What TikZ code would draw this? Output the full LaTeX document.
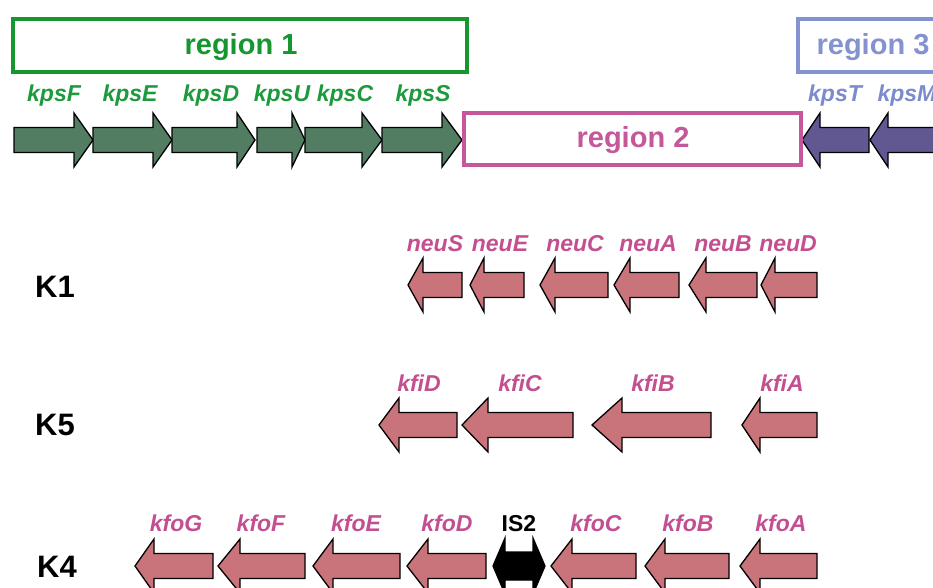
\documentclass[tikz,border=0pt]{standalone}
\usepackage{fontspec}
\setmainfont{Liberation Sans}
\usepackage{tikz}
\definecolor{rgreen}{HTML}{16962F}
\definecolor{ggreen}{HTML}{1D9A3C}
\definecolor{fgreen}{HTML}{527D63}
\definecolor{rpink}{HTML}{C4589A}
\definecolor{gpink}{HTML}{C34F90}
\definecolor{fpink}{HTML}{C8747A}
\definecolor{rblue}{HTML}{8592D2}
\definecolor{gblue}{HTML}{7C8BCB}
\definecolor{fpurple}{HTML}{615892}

% gene arrows: tip/start, head base, end, centre line, fill
\newcommand{\generight}[5]{%
  \filldraw[gene,fill=#5] (#1,#4-12.5) -- (#2,#4-12.5) -- (#2,#4-27) -- (#3,#4)
    -- (#2,#4+27) -- (#2,#4+12.5) -- (#1,#4+12.5) -- cycle;}
\newcommand{\geneleft}[5]{%
  \filldraw[gene,fill=#5] (#1,#4) -- (#2,#4-27) -- (#2,#4-12.5) -- (#3,#4-12.5)
    -- (#3,#4+12.5) -- (#2,#4+12.5) -- (#2,#4+27) -- cycle;}

\begin{document}
\begin{tikzpicture}[x=1pt,y=-1pt,
  every node/.style={inner sep=0pt},
  gene/.style={draw=black,line width=1.3pt,line join=miter},
  region/.style={draw,line width=3.2pt,fill=white,font=\fontsize{29}{32}\selectfont\bfseries},
  glabel/.style={anchor=base,font=\fontsize{23}{26}\selectfont\bfseries\itshape},
  strain/.style={anchor=base,font=\fontsize{31}{34}\selectfont\bfseries}
]
\clip (0,0) rectangle (933,588);

% regions
\node[region,draw=rgreen,minimum width=454,minimum height=53] (region1) at (240,45.5) {};
\node[region,draw=rblue,minimum width=150,minimum height=53] (region3) at (873,45.5) {};
\node[anchor=base,text=rgreen,font=\fontsize{29}{32}\selectfont\bfseries] (r1text) at (241,55) {region 1};
\node[anchor=base,text=rblue,font=\fontsize{29}{32}\selectfont\bfseries] (r3text) at (873,55) {region 3};

% capsule cluster
\generight{14}{74}{93}{140}{fgreen}
\generight{93}{153}{172}{140}{fgreen}
\generight{172}{237}{255}{140}{fgreen}
\generight{257}{292}{305}{140}{fgreen}
\generight{305}{362}{382}{140}{fgreen}
\generight{382}{442}{462}{140}{fgreen}
\geneleft{802}{820}{869}{140}{fpurple}
\geneleft{870}{888}{950}{140}{fpurple}
\node[region,draw=rpink,minimum width=337,minimum height=52] (region2) at (632.5,139) {};
\node[anchor=base,text=rpink,font=\fontsize{29}{32}\selectfont\bfseries] (r2text) at (633,148) {region 2};

\node[glabel,text=ggreen] (kpsF) at (54,102) {kpsF};
\node[glabel,text=ggreen] (kpsE) at (130,102) {kpsE};
\node[glabel,text=ggreen] (kpsD) at (211,102) {kpsD};
\node[glabel,text=ggreen] (kpsU) at (282,102) {kpsU};
\node[glabel,text=ggreen] (kpsC) at (345,102) {kpsC};
\node[glabel,text=ggreen] (kpsS) at (423,102) {kpsS};
\node[glabel,text=gblue] (kpsT) at (835,102) {kpsT};
\node[glabel,text=gblue] (kpsM) at (907,102) {kpsM};

% K1
\node[strain] (K1) at (55,297) {K1};
\geneleft{408}{423}{462}{285}{fpink}
\geneleft{470}{484}{524}{285}{fpink}
\geneleft{540}{555}{608}{285}{fpink}
\geneleft{614}{630}{679}{285}{fpink}
\geneleft{689}{706}{757}{285}{fpink}
\geneleft{761}{775}{817}{285}{fpink}
\node[glabel,text=gpink] (neuS) at (435,251) {neuS};
\node[glabel,text=gpink] (neuE) at (500,251) {neuE};
\node[glabel,text=gpink] (neuC) at (575,251) {neuC};
\node[glabel,text=gpink] (neuA) at (648,251) {neuA};
\node[glabel,text=gpink] (neuB) at (723,251) {neuB};
\node[glabel,text=gpink] (neuD) at (788,251) {neuD};

% K5
\node[strain] (K5) at (55,435) {K5};
\geneleft{379}{399}{457}{425}{fpink}
\geneleft{462}{488}{573}{425}{fpink}
\geneleft{592}{622}{711}{425}{fpink}
\geneleft{742}{760}{817}{425}{fpink}
\node[glabel,text=gpink] (kfiD) at (419,391) {kfiD};
\node[glabel,text=gpink] (kfiC) at (520,391) {kfiC};
\node[glabel,text=gpink] (kfiB) at (653,391) {kfiB};
\node[glabel,text=gpink] (kfiA) at (782,391) {kfiA};

% K4
\node[strain] (K4) at (57,577) {K4};
\geneleft{135}{154}{213}{566}{fpink}
\geneleft{218}{240}{305}{566}{fpink}
\geneleft{313}{333}{400}{566}{fpink}
\geneleft{407}{428}{486}{566}{fpink}
\filldraw[gene,fill=black] (493,566) -- (505,538) -- (505,552) -- (533,552) -- (533,538)
  -- (545,566) -- (533,594) -- (533,580) -- (505,580) -- (505,594) -- cycle;
\geneleft{551}{572}{636}{566}{fpink}
\geneleft{645}{665}{729}{566}{fpink}
\geneleft{740}{760}{817}{566}{fpink}
\node[glabel,text=gpink] (kfoG) at (176,531) {kfoG};
\node[glabel,text=gpink] (kfoF) at (261,531) {kfoF};
\node[glabel,text=gpink] (kfoE) at (356,531) {kfoE};
\node[glabel,text=gpink] (kfoD) at (447,531) {kfoD};
\node[anchor=base,font=\fontsize{23}{26}\selectfont\bfseries] (IS2) at (519,531) {IS2};
\node[glabel,text=gpink] (kfoC) at (596,531) {kfoC};
\node[glabel,text=gpink] (kfoB) at (688,531) {kfoB};
\node[glabel,text=gpink] (kfoA) at (781,531) {kfoA};
\end{tikzpicture}
\end{document}
